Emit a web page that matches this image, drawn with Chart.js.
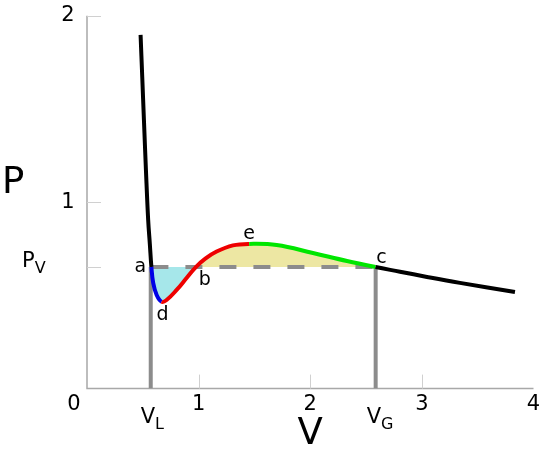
<!DOCTYPE html>
<html>
<head>
<meta charset="utf-8">
<script src="https://cdn.jsdelivr.net/npm/chart.js@4.4.1/dist/chart.umd.min.js"></script>
<style>
  body { margin: 0; background: #fff; }
</style>
</head>
<body>
<canvas id="pv-chart" width="540" height="457"></canvas>
<script>
// Isotherm, [V, P] pairs, split by colour
const leftBranch = [[0.480, 1.897], [0.495, 1.670], [0.510, 1.441], [0.528, 1.172], [0.548, 0.905], [0.563, 0.775], [0.577, 0.652]];
const blueBranch = [[0.593, 0.567], [0.624, 0.502], [0.668, 0.466]];
const redBranch = [[0.713, 0.475], [0.803, 0.529], [0.892, 0.593], [0.975, 0.652], [1.060, 0.697], [1.161, 0.735], [1.307, 0.768], [1.453, 0.776]];
const greenBranch = [[1.699, 0.770], [2.024, 0.727], [2.329, 0.684], [2.585, 0.652]];
const rightBranch = [[2.804, 0.627], [3.046, 0.599], [3.341, 0.567], [3.834, 0.518]];

// Saturation pressure and the two volumes
const PV = 0.652;
const VL = 0.571;
const VG = 2.586;

// Ticks and labels
const xTicks = [1, 2, 3, 4];
const yTicks = [1, 2];
const pointLabels = [
    { text: 'a', v: 0.577, p: PV, dx: -11, dy: 0 },
    { text: 'b', v: 0.975, p: PV, dx: 9, dy: 13 },
    { text: 'c', v: 2.585, p: PV, dx: 6, dy: -9 },
    { text: 'd', v: 0.668, p: 0.466, dx: 1, dy: 13 },
    { text: 'e', v: 1.453, p: 0.776, dx: 0, dy: -10 },
];

const branches = [leftBranch, blueBranch, redBranch, greenBranch, rightBranch];
const branchColors = ['#000000', '#0000e6', '#ee0000', '#00e600', '#000000'];

// Build the full curve and remember which colour each point belongs to
const curve = [];
const curveColor = [];
branches.forEach((b, i) => {
    b.forEach(pt => {
        curve.push({ x: pt[0], y: pt[1] });
        curveColor.push(branchColors[i]);
    });
});

// Areas between the curve and the P_V line
const aIdx = leftBranch.length - 1;
const bIdx = leftBranch.length + blueBranch.length + 3;
const cIdx = leftBranch.length + blueBranch.length + redBranch.length + greenBranch.length - 1;
const lowerArea = curve.slice(aIdx, bIdx + 1);
const upperArea = curve.slice(bIdx, cIdx + 1);

// Axes, tick marks and all text
const axesPlugin = {
    id: 'axes',
    beforeDatasetsDraw(chart) {
        const { ctx, scales: { x, y } } = chart;
        const x0 = x.getPixelForValue(0);
        const y0 = y.getPixelForValue(0);
        ctx.save();
        ctx.strokeStyle = '#a8a8a8';
        ctx.lineWidth = 1.5;
        ctx.beginPath();
        ctx.moveTo(x0, y.getPixelForValue(2));
        ctx.lineTo(x0, y0);
        ctx.lineTo(x.getPixelForValue(4), y0);
        ctx.stroke();

        ctx.strokeStyle = '#d0d0d0';
        ctx.lineWidth = 1;
        ctx.beginPath();
        [...yTicks, PV].forEach(v => {
            const py = Math.round(y.getPixelForValue(v)) + 0.5;
            ctx.moveTo(x0, py);
            ctx.lineTo(x0 + 14, py);
        });
        xTicks.slice(0, 3).forEach(v => {
            const px = Math.round(x.getPixelForValue(v)) + 0.5;
            ctx.moveTo(px, y0);
            ctx.lineTo(px, y0 - 14);
        });
        ctx.stroke();
        ctx.restore();
    },
    afterDatasetsDraw(chart) {
        const { ctx, scales: { x, y } } = chart;
        const x0 = x.getPixelForValue(0);
        const y0 = y.getPixelForValue(0);
        ctx.save();
        ctx.fillStyle = '#000';
        ctx.textBaseline = 'middle';
        ctx.textAlign = 'center';
        ctx.font = '21px "DejaVu Sans"';
        xTicks.forEach(v => ctx.fillText(String(v), x.getPixelForValue(v), y0 + 16));
        ctx.fillText('0', x0 - 13, y0 + 16);
        yTicks.forEach(v => ctx.fillText(String(v), x0 - 19, y.getPixelForValue(v)));

        // Subscripted labels
        const sub = (main, s, px, py) => {
            ctx.textAlign = 'left';
            ctx.font = '21px "DejaVu Sans"';
            ctx.fillText(main, px, py);
            const w = ctx.measureText(main).width;
            ctx.font = '16px "DejaVu Sans"';
            ctx.fillText(s, px + w, py + 7);
        };
        sub('P', 'V', 22, y.getPixelForValue(PV) - 5);
        sub('V', 'L', x.getPixelForValue(VL) - 10, y0 + 29);
        sub('V', 'G', x.getPixelForValue(VG) - 9, y0 + 29);

        // Axis titles
        ctx.textAlign = 'left';
        ctx.font = '37px "DejaVu Sans"';
        ctx.fillText('P', 2, 183);
        ctx.textAlign = 'center';
        ctx.fillText('V', x.getPixelForValue(2), y0 + 46);

        // Point letters
        ctx.font = '19px "DejaVu Sans"';
        pointLabels.forEach(l => {
            ctx.fillText(l.text, x.getPixelForValue(l.v) + l.dx, y.getPixelForValue(l.p) + l.dy);
        });
        ctx.restore();
    }
};

new Chart(document.getElementById('pv-chart'), {
    type: 'scatter',
    data: {
        datasets: [
            {
                // the isotherm itself, coloured per branch
                data: curve,
                showLine: true,
                borderWidth: 4,
                borderColor: '#000',
                tension: 0.4,
                segment: { borderColor: c => curveColor[c.p1DataIndex] },
                order: 1
            },
            {
                // Maxwell line
                data: [{ x: 0.577, y: PV }, { x: 2.585, y: PV }],
                showLine: true,
                borderWidth: 4,
                borderColor: '#8c8c8c',
                borderDash: [17, 17],
                order: 5
            },
            {
                data: [{ x: VL, y: 0 }, { x: VL, y: PV }],
                showLine: true,
                borderWidth: 4,
                borderColor: '#8c8c8c',
                order: 5
            },
            {
                data: [{ x: VG, y: 0 }, { x: VG, y: PV }],
                showLine: true,
                borderWidth: 4,
                borderColor: '#8c8c8c',
                order: 5
            },
            {
                data: lowerArea,
                showLine: true,
                borderWidth: 0,
                borderColor: 'rgba(0,0,0,0)',
                backgroundColor: '#a6e7ea',
                tension: 0.4,
                fill: { value: PV },
                order: 10
            },
            {
                data: upperArea,
                showLine: true,
                borderWidth: 0,
                borderColor: 'rgba(0,0,0,0)',
                backgroundColor: '#ede7a3',
                tension: 0.4,
                fill: { value: PV },
                order: 10
            }
        ]
    },
    options: {
        responsive: false,
        animation: false,
        layout: { padding: { left: 87, right: 6.5, top: 15.7, bottom: 68.4 } },
        scales: {
            x: { type: 'linear', min: 0, max: 4, display: false },
            y: { type: 'linear', min: 0, max: 2, display: false }
        },
        elements: { point: { radius: 0, hoverRadius: 0 } },
        plugins: { legend: { display: false }, tooltip: { enabled: false } }
    },
    plugins: [axesPlugin]
});
</script>
</body>
</html>
